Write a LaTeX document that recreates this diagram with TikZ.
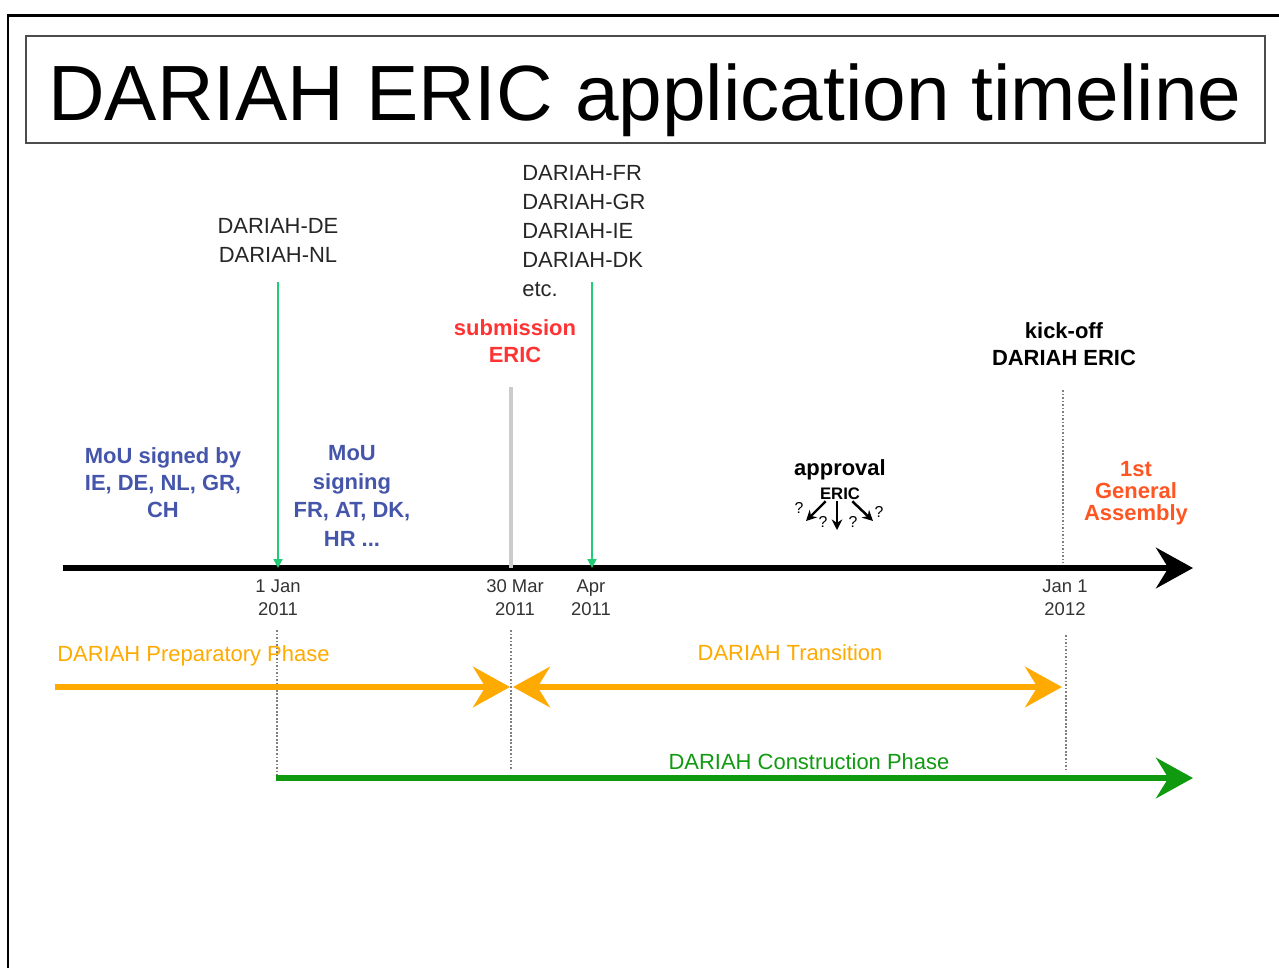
\documentclass[tikz,border=0pt]{standalone}
\usepackage{fontspec}
\setmainfont{Liberation Sans}
\usetikzlibrary{arrows.meta}

\definecolor{tickgray}{HTML}{333333}
\definecolor{phaseorange}{HTML}{FFAA00}
\definecolor{buildgreen}{HTML}{109A10}
\definecolor{memgreen}{HTML}{22CC77}
\definecolor{moublue}{HTML}{4455AA}
\definecolor{subred}{HTML}{FF3333}
\definecolor{gaorange}{HTML}{FF5522}

\begin{document}
\begin{tikzpicture}[x=0.02cm,y=-0.02cm,
    lbl/.style={align=center,inner sep=0pt,font=\fontsize{12.5}{15.3}\selectfont\bfseries},
    tick/.style={align=center,inner sep=0pt,text=tickgray,font=\fontsize{10.5}{13}\selectfont},
    member/.style={align=center,inner sep=0pt,text=black!85,font=\fontsize{12.5}{16.5}\selectfont},
    phase/.style={inner sep=0pt,font=\fontsize{12.5}{15}\selectfont},
    bigarrow/.style={line width=3.4pt,-{Stealth[length=21pt,width=23pt,inset=7pt]}},
    guide/.style={gray,line width=0.9pt,dash pattern=on 1pt off 1pt},
    smallarrow/.style={line width=1.4pt,-{Stealth[length=6pt,width=6pt]}}]
        \useasboundingbox (0,0) rectangle (1279,968);
        % frame and title
        \draw [line width=1.7pt] (1279,15) -- (8,15) -- (8,968);
        \draw [line width=1.5pt,black!70] (26,36) rectangle (1265,143);
        \node [inner sep=0pt,font=\fontsize{44.6}{50}\selectfont] (title) at (645,100) {DARIAH ERIC application timeline};

        % time axis
        \coordinate (t0) at (63,568);
        \coordinate (t1) at (1193,568);
        \draw [bigarrow] (t0) -- (t1);
        \node [tick] (jan11) at (278,598) {1 Jan\\2011};
        \node [tick] (mar11) at (515,598) {30 Mar\\2011};
        \node [tick] (apr11) at (591,598) {Apr\\2011};
        \node [tick] (jan12) at (1065,598) {Jan 1\\2012};

        % events above the axis
        \node [member] (nat1) at (278,240) {DARIAH-DE\\DARIAH-NL};
        \node [member,align=left,anchor=west] (nat2) at (522,231) {DARIAH-FR\\DARIAH-GR\\DARIAH-IE\\DARIAH-DK\\etc.};
        \coordinate (m1) at (278,282);
        \coordinate (m2) at (592,282);
        \draw [memgreen,line width=1.1pt,-{Triangle[length=5pt,width=5pt]}] (m1) -- (m1 |- t0);
        \draw [memgreen,line width=1.1pt,-{Triangle[length=5pt,width=5pt]}] (m2) -- (m2 |- t0);

        \node [lbl,text=subred] (sub) at (515,341) {submission\\ERIC};
        \coordinate (s1) at (511,387);
        \draw [black!20,line width=2.2pt] (s1) -- (s1 |- t0);

        \node [lbl] (kick) at (1064,344) {kick-off\\DARIAH ERIC};
        \coordinate (k1) at (1063,390);
        \draw [guide] (k1) -- (1063,563);

        \node [lbl,text=moublue] (mou1) at (163,483) {MoU signed by\\IE, DE, NL, GR,\\CH};
        \node [lbl,text=moublue,font=\fontsize{12.5}{16.2}\selectfont\bfseries] (mou2) at (352,496) {MoU\\signing\\FR, AT, DK,\\HR ...};
        \node [lbl,text=gaorange,font=\fontsize{12.5}{12.5}\selectfont\bfseries] (ga) at (1136,493) {1st\\General\\Assembly};

        % approval of the ERIC
        \node [lbl] (appr) at (840,470) {approval};
        \node [lbl,font=\fontsize{9.5}{11}\selectfont\bfseries] (eric) at (840,494) {ERIC};
        \coordinate (e1) at (806,521);
        \coordinate (e2) at (837,530);
        \coordinate (e3) at (873,521);
        \draw [smallarrow] (eric.south west) ++(6,1) -- (e1);
        \draw [smallarrow] (eric.south) ++(-3,1) -- (e2);
        \draw [smallarrow] (eric.south east) ++(-8,1) -- (e3);
        \node [inner sep=0pt,font=\fontsize{9}{10}\selectfont] (q1) at (799,508) {?};
        \node [inner sep=0pt,font=\fontsize{9}{10}\selectfont] (q2) at (823,522) {?};
        \node [inner sep=0pt,font=\fontsize{9}{10}\selectfont] (q3) at (853,522) {?};
        \node [inner sep=0pt,font=\fontsize{9}{10}\selectfont] (q4) at (879,512) {?};

        % phases
        \draw [guide] (277,630) -- (277,775);
        \draw [guide] (511,630) -- (511,770);
        \draw [guide] (1066,635) -- (1066,770);
        \coordinate (p0) at (55,687);
        \coordinate (p1) at (510,687);
        \coordinate (p2) at (513,687);
        \coordinate (p3) at (1062,687);
        \coordinate (c0) at (276,778);
        \coordinate (c1) at (1193,778);
        \draw [bigarrow,phaseorange] (p0) -- (p1);
        \draw [line width=3.4pt,phaseorange,{Stealth[length=21pt,width=23pt,inset=7pt]}-{Stealth[length=21pt,width=23pt,inset=7pt]}] (p2) -- (p3);
        \draw [bigarrow,buildgreen] (c0) -- (c1);
        \node [phase,text=phaseorange,anchor=west] (prep) at (57,656) {DARIAH Preparatory Phase};
        \node [phase,text=phaseorange] (trans) at (790,653) {DARIAH Transition};
        \node [phase,text=buildgreen] (cons) at (809,762) {DARIAH Construction Phase};
    \end{tikzpicture}
\end{document}
